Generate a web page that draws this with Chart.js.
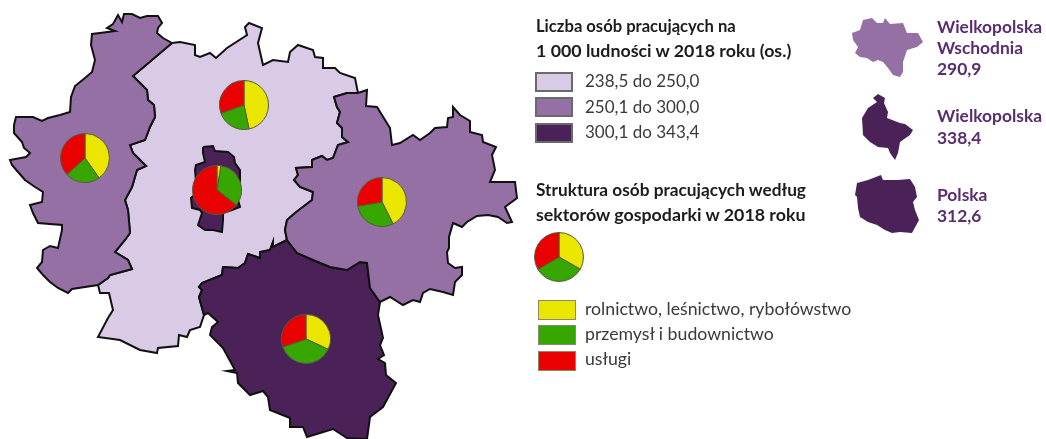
<!DOCTYPE html>
<html lang="pl">
<head>
<meta charset="utf-8">
<title>Liczba osób pracujących</title>
<script src="https://cdn.jsdelivr.net/npm/chart.js@4"></script>
<style>
  html, body { margin: 0; padding: 0; background: #fff; overflow: hidden; }
  #stage { position: relative; width: 1046px; height: 439px; font-family: Lato, sans-serif; }
  #stage canvas { position: absolute; }
  .t { position: absolute; white-space: nowrap; line-height: 24px; height: 24px; }
  .head { left: 536px; font-size: 17.8px; font-weight: 700; color: #1c1c1c; }
  .lab { left: 585px; font-size: 17.7px; color: #3a3a3a; }
  .big { left: 937px; font-size: 17.4px; font-weight: 700; color: #5a2d70; }
  .sw { position: absolute; box-sizing: border-box; width: 38px; height: 20px; border: 2px solid #6a6a6a; }
  .sw2 { border-width: 1px; border-color: #8a8a6a; }
</style>
</head>
<body>
<div id="stage">
  <canvas id="map" width="1046" height="439" style="left:0;top:0"></canvas>

  <canvas id="pie0" width="50" height="50" style="left:60px;top:133px"></canvas>
  <canvas id="pie1" width="50" height="50" style="left:219px;top:80px"></canvas>
  <canvas id="pie2" width="50" height="50" style="left:192px;top:165px"></canvas>
  <canvas id="pie3" width="50" height="50" style="left:357px;top:177px"></canvas>
  <canvas id="pie4" width="50" height="50" style="left:281px;top:314px"></canvas>
  <canvas id="pie5" width="50" height="50" style="left:534px;top:232px"></canvas>

  <div class="t head" style="top:14px;font-size:16.6px">Liczba osób pracujących na</div>
  <div class="t head" style="top:38px">1 000 ludności w 2018 roku (os.)</div>
  <div class="sw" id="sw0" style="left:535px;top:72px"></div>
  <div class="sw" id="sw1" style="left:535px;top:97px"></div>
  <div class="sw" id="sw2" style="left:535px;top:123px"></div>
  <div class="t lab" id="range0" style="top:69px;font-size:17px"></div>
  <div class="t lab" id="range1" style="top:95px;font-size:17px"></div>
  <div class="t lab" id="range2" style="top:120px;font-size:17px"></div>

  <div class="t head" style="top:178px;font-size:17.25px">Struktura osób pracujących według</div>
  <div class="t head" style="top:202px">sektorów gospodarki w 2018 roku</div>
  <div class="sw sw2" id="sec0" style="left:538px;top:300px"></div>
  <div class="sw sw2" id="sec1" style="left:538px;top:325px"></div>
  <div class="sw sw2" id="sec2" style="left:538px;top:351px"></div>
  <div class="t lab" id="sector0" style="top:297px"></div>
  <div class="t lab" id="sector1" style="top:322px"></div>
  <div class="t lab" id="sector2" style="top:347px"></div>

  <div class="t big" style="top:15px">Wielkopolska</div>
  <div class="t big" style="top:36px">Wschodnia</div>
  <div class="t big" style="top:57px">290,9</div>
  <div class="t big" style="top:104px">Wielkopolska</div>
  <div class="t big" style="top:126px">338,4</div>
  <div class="t big" style="top:183px">Polska</div>
  <div class="t big" style="top:204px">312,6</div>
</div>

<script>
const rangeLabels = ['238,5 do 250,0', '250,1 do 300,0', '300,1 do 343,4'];
const rangeColors = ['#d9cae6', '#9570a5', '#4a2258'];

const sectorLabels = ['rolnictwo, leśnictwo, rybołówstwo', 'przemysł i budownictwo', 'usługi'];
const sectorColors = ['#eae600', '#37a600', '#e90000'];

// shares in %, order: west, north, Poznan, east, south, legend sample
const rolnictwo = [40.2, 46.7, 2.6, 42.5, 31.9, 33.3];
const przemysl = [23.0, 22.8, 33.0, 29.8, 37.8, 33.3];
const uslugi = [36.8, 30.5, 64.4, 27.7, 30.3, 33.4];

// outlines, in axis units
const westOutline = [[172,43],[163,38],[157,33],[158,28],[162,23],[158,16],[147,16],[140,18],[132,14],[124,14],[122,22],[118,15],[113,24],[107,28],[115,31],[100,33],[92,34],[91,45],[95,60],[92,72],[85,78],[75,86],[71,97],[70,112],[60,115],[48,118],[42,121],[33,117],[16,117],[14,125],[14,133],[22,142],[24,148],[30,153],[26,157],[10,160],[12,165],[18,172],[25,180],[35,187],[43,192],[42,202],[30,205],[33,213],[38,223],[62,225],[62,230],[58,248],[50,246],[43,250],[42,262],[37,268],[43,275],[50,282],[58,288],[68,293],[72,289],[98,285],[108,278],[110,275],[132,269],[128,260],[115,252],[125,240],[130,233],[128,210],[125,200],[132,187],[137,170],[146,166],[138,158],[133,153],[130,145],[145,140],[150,127],[155,117],[154,105],[148,100],[147,90],[133,76]];
const centerOutline = [[172,43],[180,42],[195,45],[195,55],[200,57],[210,53],[216,58],[227,48],[247,35],[245,27],[249,23],[262,28],[258,43],[263,65],[273,60],[288,62],[290,52],[298,45],[313,50],[315,57],[323,58],[323,68],[335,68],[340,73],[355,78],[358,93],[347,93],[334,97],[337,107],[340,112],[337,123],[342,128],[342,137],[348,142],[338,145],[333,158],[327,160],[322,156],[312,160],[312,167],[296,168],[298,175],[294,180],[300,187],[313,192],[312,200],[295,213],[287,220],[285,230],[287,240],[273,247],[273,242],[270,250],[260,252],[260,258],[248,254],[245,263],[238,268],[223,267],[222,275],[202,283],[199,287],[202,290],[199,297],[204,315],[200,327],[190,330],[187,337],[179,335],[178,346],[158,348],[157,353],[140,350],[120,340],[98,337],[108,318],[113,310],[109,293],[100,293],[98,285],[108,278],[110,275],[132,269],[128,260],[115,252],[125,240],[130,233],[128,210],[125,200],[132,187],[137,170],[146,166],[138,158],[133,153],[130,145],[145,140],[150,127],[155,117],[154,105],[148,100],[147,90],[133,76]];
const eastOutline = [[334,97],[347,93],[358,93],[367,90],[366,106],[377,107],[390,128],[392,145],[400,143],[413,135],[420,140],[430,133],[435,128],[447,127],[448,118],[453,117],[453,107],[460,115],[470,121],[470,132],[482,135],[483,142],[496,147],[492,155],[495,170],[490,182],[515,182],[517,198],[505,207],[512,222],[507,223],[498,217],[488,215],[477,216],[467,222],[462,227],[453,223],[449,237],[449,248],[447,252],[448,263],[455,268],[462,267],[462,275],[455,282],[453,295],[443,292],[430,289],[423,293],[420,302],[413,300],[403,305],[390,297],[380,302],[370,288],[367,263],[360,262],[347,270],[330,267],[313,260],[297,253],[287,240],[285,230],[287,220],[295,213],[312,200],[313,192],[300,187],[294,180],[298,175],[296,168],[312,167],[312,160],[322,156],[327,160],[333,158],[338,145],[348,142],[342,137],[342,128],[337,123],[340,112],[337,107]];
const southOutline = [[287,240],[273,247],[273,242],[270,250],[260,252],[260,258],[248,254],[245,263],[238,268],[223,267],[222,275],[202,283],[199,287],[202,290],[199,297],[204,315],[208,313],[218,322],[212,327],[210,335],[223,348],[235,370],[227,371],[237,373],[238,383],[250,395],[263,391],[268,397],[270,410],[290,418],[290,427],[303,427],[307,437],[333,429],[347,438],[367,439],[370,417],[383,407],[396,383],[386,375],[385,363],[378,359],[384,355],[380,345],[383,338],[378,315],[380,302],[370,288],[367,263],[360,262],[347,270],[330,267],[313,260],[297,253]];
const poznanOutline = [[203,147],[213,146],[215,151],[228,152],[234,157],[235,163],[240,170],[240,180],[238,200],[240,207],[232,210],[223,213],[223,220],[222,232],[213,230],[205,230],[198,225],[202,213],[200,210],[192,208],[191,198],[197,193],[195,170],[196,165],[205,162],[203,153]];
const miniEast = [[852,33],[860,30],[863,20],[872,18],[877,23],[883,23],[885,18],[890,24],[903,23],[907,33],[918,33],[923,42],[917,47],[907,50],[903,62],[903,72],[900,77],[893,75],[888,68],[883,62],[878,60],[873,62],[867,58],[860,57],[855,53],[858,47],[853,40]];
const miniWlkp = [[878,94],[885,98],[884,103],[888,112],[887,118],[900,123],[905,124],[913,130],[910,135],[900,142],[898,153],[895,160],[890,153],[888,148],[878,147],[870,142],[863,135],[862,118],[868,108],[877,102],[873,98]];
const miniPolska = [[857,183],[868,180],[881,175],[883,180],[898,180],[910,179],[915,187],[917,197],[913,202],[915,210],[919,220],[912,233],[900,232],[892,233],[885,230],[877,225],[868,222],[860,217],[858,208],[857,197],[855,195]];

const regions = [
  { shape: poznanOutline, color: rangeColors[2], line: 2 },
  { shape: westOutline, color: rangeColors[1], line: 2 },
  { shape: eastOutline, color: rangeColors[1], line: 2 },
  { shape: southOutline, color: rangeColors[2], line: 2 },
  { shape: centerOutline, color: rangeColors[0], line: 2 },
  { shape: miniEast, color: rangeColors[1], line: 0 },
  { shape: miniWlkp, color: rangeColors[2], line: 0 },
  { shape: miniPolska, color: rangeColors[2], line: 0 }
];

new Chart(document.getElementById('map'), {
  type: 'scatter',
  data: {
    datasets: regions.map(r => ({
      data: r.shape.concat([r.shape[0]]).map(p => ({ x: p[0], y: p[1] })),
      showLine: true,
      fill: 'shape',
      backgroundColor: r.color,
      borderColor: '#111',
      borderWidth: r.line,
      pointRadius: 0,
      tension: 0,
      clip: false
    }))
  },
  options: {
    responsive: false,
    animation: false,
    events: [],
    layout: { padding: 0 },
    plugins: { legend: { display: false }, tooltip: { enabled: false } },
    scales: {
      x: { type: 'linear', min: 0, max: 1046, display: false },
      y: { type: 'linear', min: 0, max: 439, reverse: true, display: false }
    }
  }
});

rolnictwo.forEach((v, i) => {
  new Chart(document.getElementById('pie' + i), {
    type: 'pie',
    data: {
      labels: sectorLabels,
      datasets: [{
        data: [v, przemysl[i], uslugi[i]],
        backgroundColor: sectorColors,
        borderColor: '#5a5a3a',
        borderWidth: 1
      }]
    },
    options: {
      responsive: false,
      animation: false,
      events: [],
      plugins: { legend: { display: false }, tooltip: { enabled: false } }
    }
  });
});

rangeLabels.forEach((txt, i) => {
  document.getElementById('range' + i).textContent = txt;
  document.getElementById('sw' + i).style.background = rangeColors[i];
});
sectorLabels.forEach((txt, i) => {
  document.getElementById('sector' + i).textContent = txt;
  document.getElementById('sec' + i).style.background = sectorColors[i];
});
</script>
</body>
</html>
